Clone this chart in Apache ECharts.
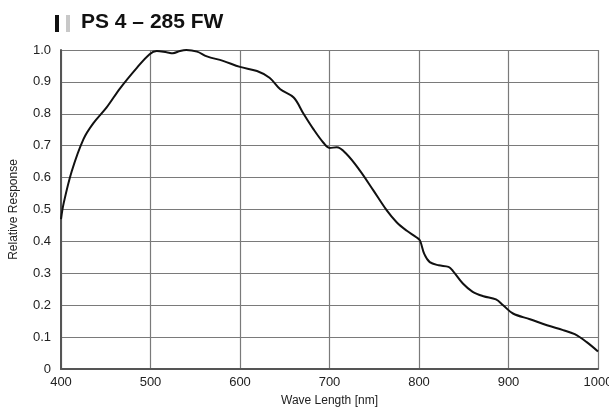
<!DOCTYPE html>
<html>
<head>
<meta charset="utf-8">
<script src="https://cdn.jsdelivr.net/npm/echarts@6/dist/echarts.min.js"></script>
<style>
  html, body { margin: 0; padding: 0; background: #fff; }
  #chart { width: 609px; height: 412px; }
</style>
</head>
<body>
<div id="chart"></div>
<script>
// wavelength (nm) and relative response
const wavelengths = [400, 403, 412, 425, 436, 451, 466, 485, 499, 507, 518, 525, 533, 540, 552, 563, 581, 600,
  619, 633, 645, 660, 671, 682, 693, 700, 708, 719, 734, 749, 764, 775, 786, 797, 801, 806, 812, 822,
  833, 838, 849, 860, 872, 886, 894, 905, 924, 943, 961, 974, 987, 1000];
const response = [0.47, 0.52, 0.62, 0.72, 0.77, 0.82, 0.88, 0.945, 0.987, 0.997, 0.993, 0.99, 0.997, 1.0, 0.995, 0.98, 0.966, 0.947,
  0.934, 0.913, 0.877, 0.851, 0.80, 0.752, 0.71, 0.693, 0.695, 0.674, 0.622, 0.56, 0.497, 0.46, 0.434, 0.413, 0.403, 0.36, 0.335, 0.325,
  0.32, 0.307, 0.268, 0.242, 0.228, 0.218, 0.2, 0.174, 0.156, 0.137, 0.122, 0.109, 0.085, 0.055];

const xTicks = { min: 400, max: 1000, step: 100 };
const yTicks = { min: 0, max: 1, step: 0.1 };
const titleText = 'PS 4 – 285 FW';

const chart = echarts.init(document.getElementById('chart'));
const labelFont = '"Liberation Sans", Arial, sans-serif';

chart.setOption({
  animation: false,
  graphic: [
    { type: 'rect', shape: { x: 55, y: 15, width: 4, height: 17 }, style: { fill: '#111' } },
    { type: 'rect', shape: { x: 66, y: 15, width: 4, height: 17 }, style: { fill: '#c8c8c8' } },
    {
      type: 'text', left: 81, top: 12,
      style: { text: titleText, font: 'bold 21px "Liberation Sans", sans-serif', fill: '#111' }
    }
  ],
  grid: { left: 61, right: 11, top: 50, bottom: 43, containLabel: false, outerBoundsMode: 'none' },
  xAxis: {
    type: 'value',
    min: xTicks.min, max: xTicks.max, interval: xTicks.step,
    name: 'Wave Length [nm]',
    nameLocation: 'middle',
    nameGap: 26,
    nameTextStyle: { fontFamily: labelFont, fontSize: 12, color: '#222' },
    axisLine: { lineStyle: { color: '#555', width: 2 } },
    axisTick: { show: false },
    axisLabel: { fontFamily: labelFont, fontSize: 13, color: '#222', margin: 7, formatter: v => String(v) },
    splitLine: { show: true, lineStyle: { color: '#7a7a7a', width: 1.2 } }
  },
  yAxis: {
    type: 'value',
    min: yTicks.min, max: yTicks.max, interval: yTicks.step,
    name: 'Relative Response',
    nameLocation: 'middle',
    nameGap: 41,
    nameTextStyle: { fontFamily: labelFont, fontSize: 12, color: '#222' },
    axisLine: { show: true, lineStyle: { color: '#555', width: 2 } },
    axisTick: { show: false },
    axisLabel: {
      fontFamily: labelFont, fontSize: 13, color: '#222', margin: 10,
      formatter: v => (v === 0 ? '0' : v.toFixed(1))
    },
    splitLine: { show: true, lineStyle: { color: '#7a7a7a', width: 1.2 } }
  },
  series: [{
    type: 'line',
    data: wavelengths.map((w, i) => [w, response[i]]),
    smooth: 0.35,
    showSymbol: false,
    lineStyle: { color: '#111', width: 2 }
  }]
});
</script>
</body>
</html>
